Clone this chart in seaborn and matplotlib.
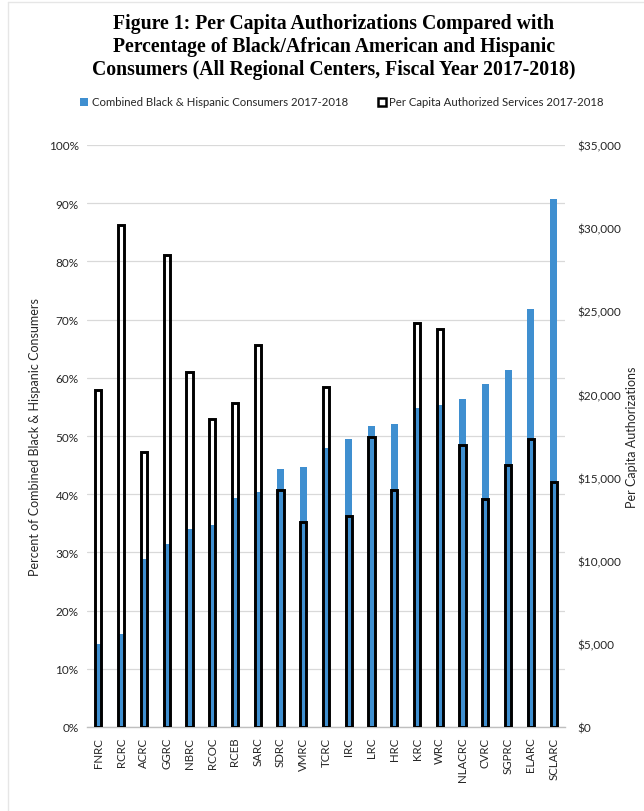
import matplotlib
matplotlib.use("Agg")
import matplotlib.pyplot as plt
import seaborn as sns
import pandas as pd
from matplotlib.patches import Patch
from matplotlib.lines import Line2D
from matplotlib.ticker import FuncFormatter, MultipleLocator

# Regional centers, ordered by share of Black & Hispanic consumers
centers = ["FNRC", "RCRC", "ACRC", "GGRC", "NBRC", "RCOC", "RCEB", "SARC",
           "SDRC", "VMRC", "TCRC", "IRC", "LRC", "HRC", "KRC", "WRC",
           "NLACRC", "CVRC", "SGPRC", "ELARC", "SCLARC"]

# Combined Black & Hispanic consumers, percent (left axis)
pct_black_hispanic = [14.3, 15.9, 28.8, 31.5, 34.0, 34.7, 39.4, 40.4,
                      44.4, 44.6, 48.0, 49.5, 51.7, 52.0, 54.8, 55.3,
                      56.3, 59.0, 61.4, 71.8, 90.7]

# Per capita authorized services, dollars (right axis)
per_capita = [20270, 30170, 16520, 28385, 21350, 18550, 19460, 22960,
              14245, 12355, 20440, 12670, 17430, 14245, 24325, 23940,
              16940, 13685, 15750, 17290, 14735]

BLUE = "#3F8FD0"
GRID = "#d9d9d9"
TEXT = "#262626"

sns.set_theme(style="white")
plt.rcParams["font.family"] = ["Lato", "DejaVu Sans"]

df = pd.DataFrame({"center": centers, "pct": pct_black_hispanic, "cap": per_capita})

W, H = 644, 812
fig = plt.figure(figsize=(W / 100, H / 100), dpi=100)
ax = fig.add_axes([87 / W, 1 - 728 / H, (565 - 87) / W, (728 - 146) / H])
ax2 = ax.twinx()

sns.barplot(data=df, x="center", y="pct", color=BLUE, saturation=1,
            width=0.31, errorbar=None, linewidth=0, ax=ax)
sns.barplot(data=df, x="center", y="cap", color="black", saturation=1,
            width=0.27, errorbar=None, fill=False, linewidth=2.1, ax=ax2)

ax.set_xlim(-0.5, len(centers) - 0.5)
ax.set_ylim(0, 100)
ax2.set_ylim(0, 35000)

ax.yaxis.set_major_locator(MultipleLocator(10))
ax.yaxis.set_major_formatter(FuncFormatter(lambda v, p: f"{v:.0f}%"))
ax2.yaxis.set_major_locator(MultipleLocator(5000))
ax2.yaxis.set_major_formatter(FuncFormatter(lambda v, p: f"${v:,.0f}"))

ax.set_axisbelow(True)
ax.yaxis.grid(True, color=GRID, linewidth=0.9)
ax.xaxis.grid(False)
ax2.grid(False)

for a in (ax, ax2):
    for s in a.spines.values():
        s.set_visible(False)
ax.spines["bottom"].set_visible(True)
ax.spines["bottom"].set_color("#bfbfbf")
ax.spines["bottom"].set_linewidth(1.0)

ax.tick_params(axis="y", length=0, pad=6, labelsize=8.5, labelcolor=TEXT)
ax2.tick_params(axis="y", length=0, pad=9, labelsize=8.5, labelcolor=TEXT)
ax.tick_params(axis="x", length=0, pad=7, labelsize=8.3, labelcolor=TEXT,
               labelrotation=90)

ax.set_xlabel("")
ax.set_ylabel("")
ax2.set_ylabel("")

fig.text(35 / W, 1 - 437 / H, "Percent of Combined Black & Hispanic Consumers",
         rotation=90, ha="center", va="center", fontsize=9, color=TEXT)
fig.text(632 / W, 1 - 437 / H, "Per Capita Authorizations",
         rotation=90, ha="center", va="center", fontsize=9, color=TEXT)

fig.text(334 / W, 1 - 47 / H,
         "Figure 1: Per Capita Authorizations Compared with\n"
         "Percentage of Black/African American and Hispanic\n"
         "Consumers (All Regional Centers, Fiscal Year 2017-2018)",
         ha="center", va="center", fontsize=14.2, fontweight="bold",
         family="Liberation Serif", linespacing=1.2, color="black")

handles = [
    Patch(facecolor=BLUE, edgecolor="none",
          label="Combined Black & Hispanic Consumers 2017-2018"),
    Patch(facecolor="white", edgecolor="black", linewidth=1.8,
          label="Per Capita Authorized Services 2017-2018"),
]
fig.legend(handles=handles, loc="center", bbox_to_anchor=(342 / W, 1 - 103 / H),
           ncol=2, frameon=False, fontsize=8.2, handlelength=0.7,
           handleheight=0.7, handletextpad=0.3, columnspacing=2.6,
           labelcolor=TEXT)

# faint page border
fig.add_artist(Line2D([8 / W, 8 / W], [0, 1 - 3 / H], transform=fig.transFigure,
                      color="#e6e6e6", linewidth=1))
fig.add_artist(Line2D([8 / W, 1], [1 - 3 / H, 1 - 3 / H], transform=fig.transFigure,
                      color="#e6e6e6", linewidth=1))

fig.savefig("out.png", dpi=100)
